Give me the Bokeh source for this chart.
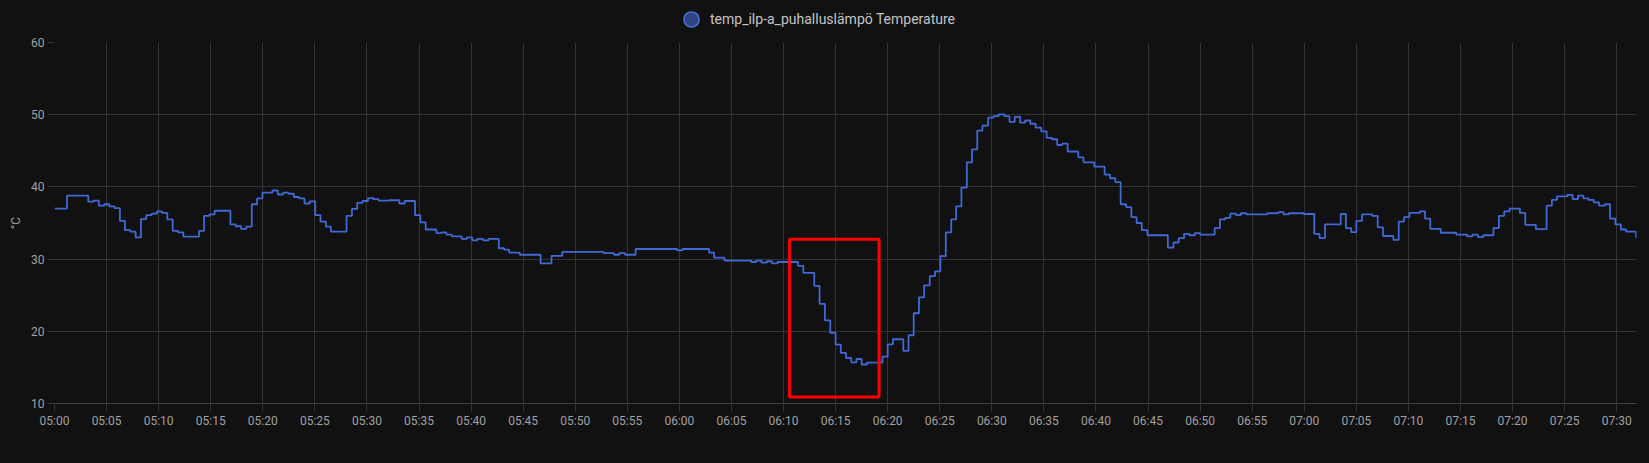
import pandas as pd
from bokeh.plotting import figure
from bokeh.layouts import column
from bokeh.embed import file_html
from bokeh.resources import INLINE
from bokeh.models import (ColumnDataSource, Range1d, FixedTicker, Legend, LegendItem,
                          BoxAnnotation, GlobalInlineStyleSheet)

# minutes after 05:00 and the reading that starts there (sensor steps)
minutes = [
    0.0, 1.2, 3.24, 3.75, 4.26, 4.78, 5.26, 5.77, 6.28, 6.76, 7.28, 7.79, 8.3, 8.81, 9.33, 9.84,
    10.32, 10.83, 11.35, 11.86, 12.37, 13.88, 14.36, 14.87, 15.38, 16.89, 17.4, 17.92, 18.43, 18.94,
    19.45, 19.97, 20.93, 21.44, 21.96, 22.47, 22.98, 23.49, 24.0, 24.52, 25.03, 25.54, 26.06, 26.54,
    28.04, 28.56, 29.07, 29.58, 30.1, 30.61, 31.12, 32.12, 33.11, 33.62, 34.62, 35.13, 35.64, 36.67,
    37.15, 37.63, 38.15, 39.1, 39.6, 40.1, 40.6, 41.15, 41.67, 42.66, 43.17, 43.65, 44.68, 46.67,
    47.72, 48.75, 52.72, 53.72, 54.23, 54.78, 55.8, 59.8, 60.3, 62.85, 63.33, 64.33, 66.9, 67.37,
    67.88, 68.4, 68.9, 69.4, 71.4, 71.9, 72.95, 73.46, 73.97, 74.49, 75.0, 75.5, 76.0, 76.5, 77.0,
    77.5, 78.0, 79.5, 80.0, 80.5, 81.5, 82.0, 82.5, 83.0, 83.5, 84.04, 84.55, 85.06, 85.58, 86.1,
    86.57, 87.08, 87.6, 88.1, 88.6, 89.1, 89.65, 90.16, 90.67, 91.2, 91.7, 92.2, 92.72, 93.2, 93.7,
    94.2, 94.74, 95.26, 95.77, 96.28, 96.76, 97.28, 98.3, 98.8, 99.84, 100.83, 101.35, 101.86,
    102.37, 102.9, 103.4, 103.9, 104.4, 104.94, 106.9, 107.44, 107.95, 108.46, 108.97, 109.5, 110.0,
    111.4, 111.9, 112.4, 112.9, 113.45, 113.9, 114.45, 116.45, 117.5, 118.0, 118.5, 119.94, 120.96,
    121.47, 121.99, 123.5, 124.0, 124.5, 125.0, 125.55, 126.54, 127.05, 127.56, 128.56, 129.07,
    129.58, 130.1, 131.1, 131.6, 132.1, 133.1, 134.6, 135.64, 136.15, 136.67, 137.18, 138.17,
    138.69, 139.2, 139.71, 140.7, 141.22, 142.24, 143.27, 143.78, 144.26, 145.26, 145.77, 146.28,
    146.8, 147.3, 147.8, 148.3, 148.85, 149.36, 149.87, 150.4, 150.9, 151.86, 152.5,
]
temps = [
    37.0, 38.8, 37.95, 38.1, 37.4, 37.6, 37.3, 37.05, 35.3, 34.0, 33.8, 33.0, 35.55, 36.1, 36.3, 36.6,
    36.4, 35.5, 33.9, 33.7, 33.1, 33.9, 36.0, 36.2, 36.7, 34.8, 34.55, 34.2, 34.5, 37.6,
    38.4, 39.2, 39.5, 38.95, 39.2, 39.05, 38.6, 38.4, 37.7, 38.0, 36.1, 35.2, 34.5, 33.8,
    36.0, 36.95, 37.8, 38.05, 38.45, 38.3, 38.1, 38.15, 37.7, 38.05, 36.1, 35.1, 34.1, 33.6,
    33.7, 33.4, 33.15, 32.8, 33.0, 32.6, 32.8, 32.6, 32.8, 31.5, 31.3, 30.9, 30.6, 29.4,
    30.46, 31.0, 30.83, 30.6, 30.83, 30.6, 31.4, 31.2, 31.4, 30.9, 30.2, 29.8, 29.6, 29.8,
    29.5, 29.7, 29.4, 29.6, 29.07, 28.1, 26.3, 23.8, 21.5, 19.8, 18.15, 17.0, 16.3, 15.7, 16.16,
    15.4, 15.65, 16.5, 18.2, 18.9, 17.3, 19.45, 22.5, 24.7, 26.35, 27.65, 28.3, 30.4, 33.7, 35.5,
    37.3, 39.9, 43.4, 45.2, 47.8, 48.5, 49.6, 49.8, 50.05, 49.8, 49.0, 49.7, 48.9, 49.2, 48.75,
    48.2, 47.7, 46.8, 46.6, 45.8, 46.0, 44.9, 44.1, 43.4, 42.8, 41.7, 41.2, 40.65,
    37.6, 37.2, 35.8, 35.0, 34.0, 33.3, 31.6, 32.3, 32.9, 33.5, 33.3, 33.6, 33.4,
    34.3, 35.5, 35.7, 36.3, 36.1, 36.35, 36.2, 36.35, 36.5, 36.2, 36.35, 36.25, 33.5,
    32.9, 34.8, 36.25, 34.3, 33.75, 35.3, 36.2, 36.0, 34.4, 33.2, 32.65, 35.2,
    35.8, 36.4, 36.6, 35.6, 34.2, 33.65, 33.4, 33.15, 33.4, 33.05, 33.3, 34.3,
    36.0, 36.6, 37.0, 36.4, 34.75, 34.15, 37.4, 38.2, 38.7, 38.9, 38.3, 38.8,
    38.4, 38.2, 37.85, 37.4, 37.6, 35.6, 34.8, 34.1, 33.8, 33.0, 33.0,
]

series_name = "temp_ilp-a_puhalluslämpö Temperature"
y_ticks = [10, 20, 30, 40, 50, 60]
tick_minutes = [0, 5, 10, 15, 20, 25, 30, 35, 40, 45, 50, 55, 60, 65, 70, 75, 80, 85, 90,
                95, 100, 105, 110, 115, 120, 125, 130, 135, 140, 145, 150]
tick_labels = ["05:00", "05:05", "05:10", "05:15", "05:20", "05:25", "05:30", "05:35", "05:40",
               "05:45", "05:50", "05:55", "06:00", "06:05", "06:10", "06:15", "06:20", "06:25",
               "06:30", "06:35", "06:40", "06:45", "06:50", "06:55", "07:00", "07:05", "07:10",
               "07:15", "07:20", "07:25", "07:30"]

# red highlight box (minutes after 05:00, °C)
box_from, box_to = 70.56, 79.17
box_low, box_high = 10.91, 32.76

start = pd.Timestamp("2024-01-01 05:00")
x_end = 151.9

BG = "#111111"
GRID = "#333333"
TXT = "#a0a0a0"
FONT = "Roboto"


def ms(m):
    return float((start + pd.Timedelta(minutes=m)).value // 10**6)


source = ColumnDataSource(dict(time=[ms(m) for m in minutes], temp=temps))

# strip on top that only holds the legend (its frame lines up with the chart's frame)
top = figure(width=1649, height=34, x_range=Range1d(0, 1), y_range=Range1d(0, 1),
             x_axis_location=None, y_axis_location=None, output_backend="svg",
             toolbar_location=None, background_fill_color=BG, border_fill_color=BG,
             outline_line_color=None, min_border=0)
top.grid.grid_line_color = None
# same data, but far outside this strip's range: only its legend swatch shows
dot = top.scatter("time", "temp", source=source, fill_color="#2c4484",
                  line_color="#4a70d8", line_width=1.5)
legend = Legend(items=[LegendItem(label=series_name, renderers=[dot])],
                location=(618, -4), background_fill_alpha=0, border_line_color=None,
                label_text_color="#c4c4c4", label_text_font=FONT, label_text_font_size="14px",
                glyph_width=38, glyph_height=38, label_standoff=-5,
                padding=0, margin=0, spacing=0)
top.add_layout(legend)

p = figure(width=1649, height=429, x_axis_type="datetime",
           x_range=Range1d(ms(0), ms(x_end)), y_range=Range1d(10, 60),
           output_backend="svg", toolbar_location=None,
           background_fill_color=BG, border_fill_color=BG, outline_line_color=None,
           min_border_left=54, min_border_right=13, min_border_top=8, min_border_bottom=60)
p.stylesheets = [GlobalInlineStyleSheet(css="html, body { background-color: #111111; }")]

p.step("time", "temp", source=source, mode="after", line_color="#4169d6", line_width=1.8)

p.add_layout(BoxAnnotation(left=ms(box_from), right=ms(box_to), bottom=box_low, top=box_high,
                           fill_color=None, line_color="#ff0000", line_alpha=1, line_width=3))

x_ticker = FixedTicker(ticks=[ms(m) for m in tick_minutes])
y_ticker = FixedTicker(ticks=y_ticks)

# grids
p.xgrid.ticker = x_ticker
p.ygrid.ticker = y_ticker
p.xgrid.grid_line_color = GRID
p.ygrid.grid_line_color = GRID

# x axis
xa = p.xaxis[0]
xa.ticker = x_ticker
xa.major_label_overrides = {ms(m): lab for m, lab in zip(tick_minutes, tick_labels)}
xa.axis_line_color = "#444444"
xa.major_tick_line_color = GRID
xa.major_tick_out = 8
xa.major_tick_in = 0
xa.minor_tick_line_color = None
xa.major_label_standoff = 2
xa.major_label_text_font = FONT
xa.major_label_text_font_size = "12px"
xa.major_label_text_color = TXT

# y axis
ya = p.yaxis[0]
ya.ticker = y_ticker
ya.axis_line_color = None
ya.major_tick_line_color = GRID
ya.major_tick_out = 7
ya.major_tick_in = 0
ya.minor_tick_line_color = None
ya.major_label_standoff = 3
ya.major_label_text_font = FONT
ya.major_label_text_font_size = "12px"
ya.major_label_text_color = TXT
ya.axis_label = "°C"
ya.axis_label_text_font = FONT
ya.axis_label_text_font_size = "12px"
ya.axis_label_text_font_style = "normal"
ya.axis_label_text_color = TXT
ya.axis_label_standoff = 5

open("out.html", "w").write(file_html(column(top, p, spacing=0), INLINE))
